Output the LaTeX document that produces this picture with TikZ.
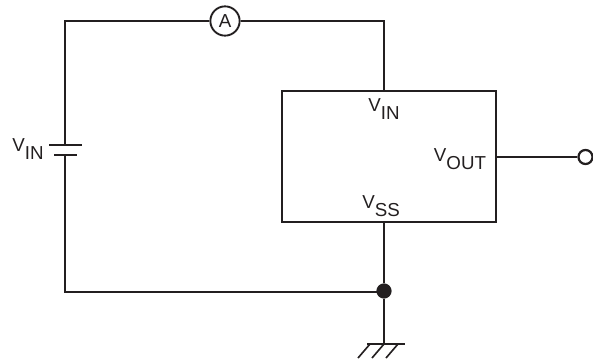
\documentclass[tikz,border=0pt]{standalone}
\usepackage{fontspec}
\setmainfont{Liberation Sans}
\usepackage{xcolor}
\definecolor{inkblack}{HTML}{231F20}
\usetikzlibrary{calc}
\newcommand{\vsub}[1]{V\raisebox{-7.4pt}{#1}}
\tikzset{
	wire/.style={line width=1.9pt,color=inkblack,line join=miter},
	thinwire/.style={line width=1.4pt,color=inkblack},
	label/.style={inner sep=0pt,text=inkblack,font=\fontsize{16}{16}\selectfont},
	meter/.style={circle,draw=inkblack,fill=white,line width=1.6pt,minimum size=25pt,inner sep=0pt,text=inkblack,font=\fontsize{16}{16}\selectfont},
	opencirc/.style={circle,draw=inkblack,fill=white,line width=1.9pt,minimum size=12pt,inner sep=0pt},
	junction/.style={circle,fill=inkblack,minimum size=13pt,inner sep=0pt}
}
\begin{document}
\begin{tikzpicture}[x=0.03cm,y=-0.03cm]
	\useasboundingbox (0,0) rectangle (593,361);

	\coordinate (topleft) at (65,21);
	\coordinate (topright) at (384,21);
	\coordinate (botleft) at (65,292);
	\coordinate (plateA) at (65,145);
	\coordinate (plateB) at (65,155);
	\coordinate (boxA) at (282,91);
	\coordinate (boxB) at (496,222);
	\coordinate (boxtop) at (384,91);
	\coordinate (boxbot) at (384,222);
	\coordinate (boxout) at (496,157);
	\coordinate (gnd) at (384,344);

	\node [meter] (ammeter) at (225,21) {A};
	\node [opencirc] (output) at (585.5,157) {};
	\node [junction] (dot) at (384,291) {};

	\draw [wire] (plateA) -- (topleft) -- (ammeter);
	\draw [wire] (ammeter) -- (topright) -- (boxtop);
	\draw [wire] (plateB) -- (botleft) -- (botleft -| dot);
	\draw [wire] (boxbot) -- (dot) -- (gnd);
	\draw [wire] (boxout) -- (output);
	\draw [wire] (boxA) rectangle (boxB);

	\draw [thinwire] ($(plateA)+(-16,0)$) -- ($(plateA)+(17,0)$);
	\draw [wire,line width=2.4pt] ($(plateB)+(-11,0)$) -- ($(plateB)+(12,0)$);

	\draw [thinwire] ($(gnd)+(-17,0)$) -- ($(gnd)+(21,0)$);
	\foreach \dx in {-14,0,14}
		\draw [thinwire] ($(gnd)+(\dx,0)$) -- ($(gnd)+(\dx-12,14)$);

	\node [label] (vinleft) at (28,149) {\vsub{IN}};
	\node [label] (vintop) at (384,109) {\vsub{IN}};
	\node [label] (vout) at (460,159) {\vsub{OUT}};
	\node [label] (vss) at (381,206) {\vsub{SS}};
\end{tikzpicture}
\end{document}
